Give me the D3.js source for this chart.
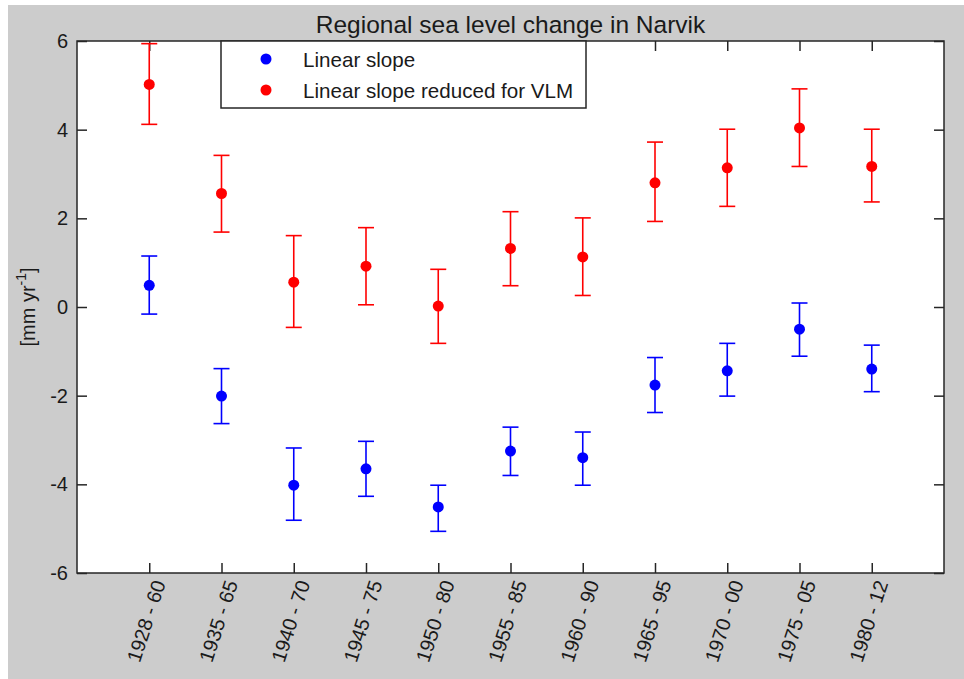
<!DOCTYPE html>
<html>
<head>
<meta charset="utf-8">
<script src="https://cdn.jsdelivr.net/npm/d3@7"></script>
<style>
    body { margin: 0; background: #ffffff; }
    svg { display: block; }
    svg text { font-family: "Liberation Sans", Arial, sans-serif; fill: #1a1a1a; }
</style>
</head>
<body>
<svg id="svg"></svg>
<script>
'use strict';

// ================================= data ======================================
var periods = ["1928 - 60", "1935 - 65", "1940 - 70", "1945 - 75", "1950 - 80", "1955 - 85",
    "1960 - 90", "1965 - 95", "1970 - 00", "1975 - 05", "1980 - 12"]

// Linear slope (blue)
var slope = [0.49, -2.01, -4.02, -3.65, -4.51, -3.25, -3.40, -1.76, -1.44, -0.50, -1.40]
var slopeLow = [-0.16, -2.63, -4.81, -4.27, -5.06, -3.80, -4.02, -2.38, -2.01, -1.11, -1.91]
var slopeHigh = [1.15, -1.39, -3.18, -3.03, -4.02, -2.71, -2.82, -1.14, -0.82, 0.09, -0.86]

// Linear slope reduced for VLM (red)
var slopeVlm = [5.02, 2.56, 0.56, 0.92, 0.02, 1.32, 1.13, 2.80, 3.14, 4.04, 3.17]
var slopeVlmLow = [4.12, 1.69, -0.46, 0.05, -0.82, 0.48, 0.26, 1.93, 2.27, 3.17, 2.37]
var slopeVlmHigh = [5.94, 3.42, 1.61, 1.79, 0.85, 2.15, 2.01, 3.72, 4.01, 4.92, 4.01]

var yTicks = [-6, -4, -2, 0, 2, 4, 6]

var seriesNames = ["Linear slope", "Linear slope reduced for VLM"]
var seriesColors = ["#0000ff", "#ff0000"]

// ================================= setup ======================================
var width = 964;
var height = 679;
// note: "top" is taken by window.top, so prefix everything
var plotLeft = 77, plotRight = 944, plotTop = 41, plotBottom = 573;

var svg = d3.select("#svg")
    .attr("width", width)
    .attr("height", height)

// gray figure background (white strip top / left like the screenshot)
svg.append("rect")
    .attr("x", 8).attr("y", 5)
    .attr("width", width - 8).attr("height", height - 5)
    .attr("fill", "#cccccc")

svg.append("rect")
    .attr("x", plotLeft).attr("y", plotTop)
    .attr("width", plotRight - plotLeft).attr("height", plotBottom - plotTop)
    .attr("fill", "#ffffff")

var x = d3.scaleLinear().domain([-1, periods.length]).range([plotLeft, plotRight])
var y = d3.scaleLinear().domain([-6, 6]).range([plotBottom, plotTop])

svg.append("clipPath").attr("id", "plotclip")
    .append("rect")
    .attr("x", plotLeft).attr("y", plotTop - 1)
    .attr("width", plotRight - plotLeft).attr("height", plotBottom - plotTop + 2)

// ================================= axes ======================================
var tickColor = "#262626"

var xBottom = svg.append("g")
    .attr("transform", `translate(0,${plotBottom})`)
    .call(d3.axisBottom(x).tickValues(d3.range(periods.length)).tickSizeInner(-10).tickSizeOuter(0).tickFormat(""))
var xTop = svg.append("g")
    .attr("transform", `translate(0,${plotTop})`)
    .call(d3.axisTop(x).tickValues(d3.range(periods.length)).tickSizeInner(-10).tickSizeOuter(0).tickFormat(""))
var yLeft = svg.append("g")
    .attr("transform", `translate(${plotLeft},0)`)
    .call(d3.axisLeft(y).tickValues(yTicks).tickSizeInner(-10).tickSizeOuter(0).tickFormat(""))
var yRight = svg.append("g")
    .attr("transform", `translate(${plotRight},0)`)
    .call(d3.axisRight(y).tickValues(yTicks).tickSizeInner(-10).tickSizeOuter(0).tickFormat(""))

for (let g of [xBottom, xTop, yLeft, yRight]) {
    g.select(".domain").remove()
    g.selectAll("line").attr("stroke", tickColor).attr("stroke-width", 1.5)
}

// frame
svg.append("rect")
    .attr("x", plotLeft).attr("y", plotTop)
    .attr("width", plotRight - plotLeft).attr("height", plotBottom - plotTop)
    .attr("fill", "none")
    .attr("stroke", tickColor)
    .attr("stroke-width", 1.5)

// y tick labels
svg.append("g").selectAll("text")
    .data(yTicks)
    .join("text")
    .attr("x", plotLeft - 9)
    .attr("y", d => y(d))
    .attr("text-anchor", "end")
    .attr("dominant-baseline", "central")
    .attr("font-size", 20)
    .text(d => d)

// x tick labels, rotated
svg.append("g").selectAll("text")
    .data(periods)
    .join("text")
    .attr("transform", (d, i) => `translate(${x(i) + 10},${plotBottom + 8}) rotate(-72)`)
    .attr("text-anchor", "end")
    .attr("dominant-baseline", "central")
    .attr("font-size", 20)
    .text(d => d)

// y label
var ylab = svg.append("text")
    .attr("transform", `translate(28,${(plotTop + plotBottom) / 2}) rotate(-90)`)
    .attr("text-anchor", "middle")
    .attr("dominant-baseline", "central")
    .attr("font-size", 20)
ylab.append("tspan").text("[mm yr")
ylab.append("tspan").attr("font-size", 14).attr("dy", -7).text("-1")
ylab.append("tspan").attr("dy", 7).text("]")

// title
svg.append("text")
    .attr("x", (plotLeft + plotRight) / 2)
    .attr("y", 33)
    .attr("text-anchor", "middle")
    .attr("font-size", 24.5)
    .text("Regional sea level change in Narvik")

// ================================= error bars ======================================
function drawSeries(values, lows, highs, color) {
    let g = svg.append("g").attr("clip-path", "url(#plotclip)")
    let rows = periods.map((p, i) => ({ i: i, v: values[i], lo: lows[i], hi: highs[i] }))

    g.selectAll("line.stem")
        .data(rows)
        .join("line")
        .attr("class", "stem")
        .attr("x1", d => x(d.i)).attr("x2", d => x(d.i))
        .attr("y1", d => y(d.lo)).attr("y2", d => y(d.hi))
        .attr("stroke", color).attr("stroke-width", 1.6)

    for (let key of ["lo", "hi"]) {
        g.selectAll("line.cap-" + key)
            .data(rows)
            .join("line")
            .attr("class", "cap-" + key)
            .attr("x1", d => x(d.i) - 8).attr("x2", d => x(d.i) + 8)
            .attr("y1", d => y(d[key])).attr("y2", d => y(d[key]))
            .attr("stroke", color).attr("stroke-width", 1.6)
    }

    g.selectAll("circle")
        .data(rows)
        .join("circle")
        .attr("cx", d => x(d.i))
        .attr("cy", d => y(d.v))
        .attr("r", 5.5)
        .attr("fill", color)
}

drawSeries(slope, slopeLow, slopeHigh, seriesColors[0])
drawSeries(slopeVlm, slopeVlmLow, slopeVlmHigh, seriesColors[1])

// ================================= legend ======================================
var legend = svg.append("g")
legend.append("rect")
    .attr("x", 221).attr("y", plotTop)
    .attr("width", 365).attr("height", 67)
    .attr("fill", "#ffffff")
    .attr("stroke", tickColor)
    .attr("stroke-width", 1.5)

var legendRow = d3.scaleLinear().domain([0, 1]).range([59, 90])
legend.selectAll("circle")
    .data(seriesNames)
    .join("circle")
    .attr("cx", 266)
    .attr("cy", (d, i) => legendRow(i))
    .attr("r", 5.5)
    .attr("fill", (d, i) => seriesColors[i])
legend.selectAll("text")
    .data(seriesNames)
    .join("text")
    .attr("x", 303)
    .attr("y", (d, i) => legendRow(i))
    .attr("dominant-baseline", "central")
    .attr("font-size", 20.6)
    .text(d => d)
</script>
</body>
</html>
